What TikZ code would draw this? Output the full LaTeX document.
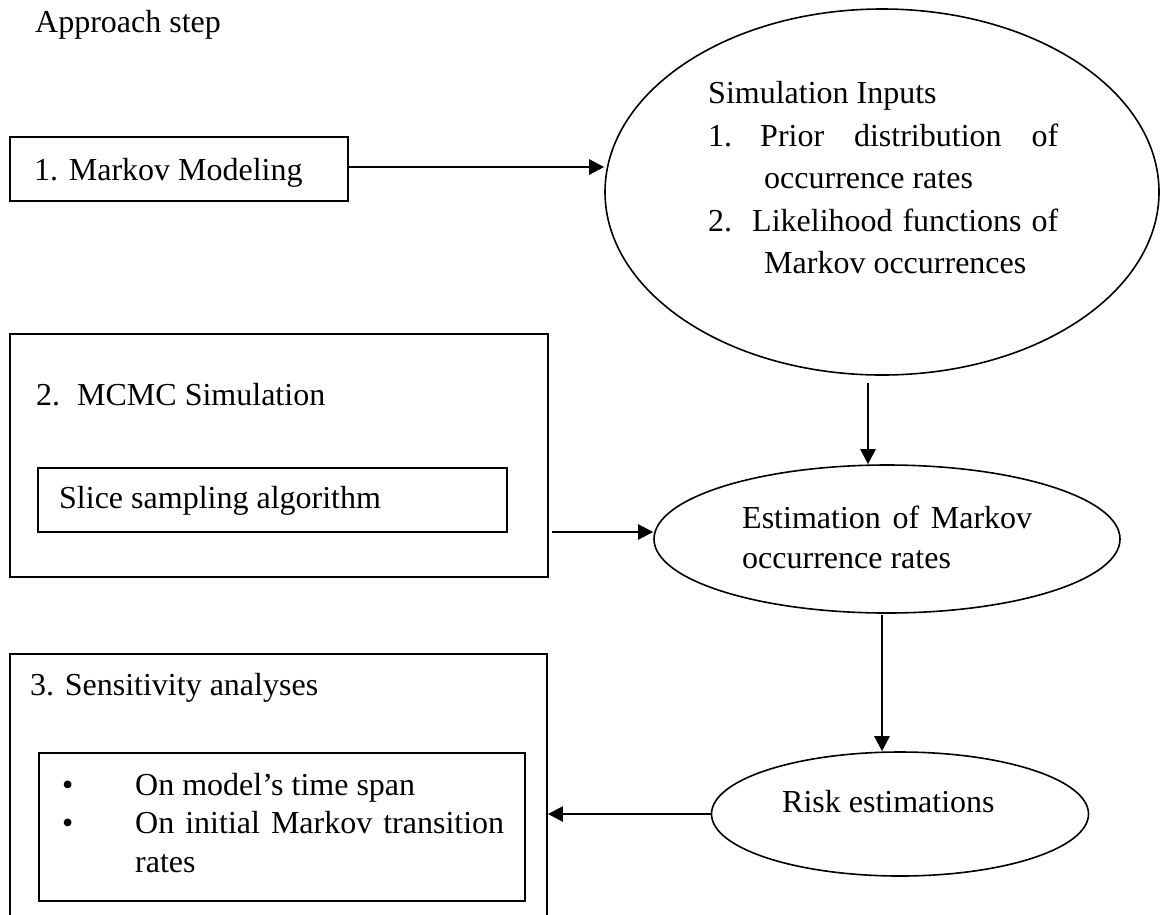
\documentclass[tikz,border=0pt]{standalone}
\usepackage{fontspec}
\setmainfont{Liberation Serif}
\usetikzlibrary{shapes.geometric,arrows.meta}

\tikzset{
  txt/.style={anchor=base west, inner sep=0pt, font=\fontsize{32}{40}\selectfont},
  stepbox/.style={draw, line width=1.8pt, rectangle, inner sep=0pt},
  stage/.style={draw, line width=1.6pt, ellipse, inner sep=0pt},
  flow/.style={line width=2.4pt, -{Triangle[length=15pt,width=15pt]}},
}

\begin{document}
\begin{tikzpicture}[x=1pt, y=-1pt]
  \useasboundingbox (0,0) rectangle (1161,914);
  \clip (0,0) rectangle (1161,914);
  \fill[white] (0,0) rectangle (1161,914);

  % heading
  \node[txt] (title) at (35,32) {Approach step};

  % step 1
  \node[stepbox, minimum width=338pt, minimum height=64pt] (box1) at (179,169) {};
  \node[txt] (t1) at (34,180) {1. Markov Modeling};

  % simulation inputs
  \node[stage, minimum width=554pt, minimum height=366pt] (ell1) at (882,192) {};
  \node[txt] (in0) at (708,103) {Simulation Inputs};
  \node[txt] (in1n) at (708,146) {1.};
  \node[txt] (in1) at (760,146) {\makebox[298pt][s]{Prior distribution of}};
  \node[txt] (in1b) at (764,188) {occurrence rates};
  \node[txt] (in2n) at (708,231) {2.};
  \node[txt] (in2) at (752,231) {\makebox[306pt][s]{Likelihood functions of}};
  \node[txt] (in2b) at (764,273) {Markov occurrences};

  % step 2
  \node[stepbox, minimum width=538pt, minimum height=243pt] (box2) at (279,455.5) {};
  \node[txt] (t2n) at (36,405) {2.};
  \node[txt] (t2) at (77,405) {MCMC Simulation};
  \node[stepbox, minimum width=469pt, minimum height=64pt] (slice) at (272.5,500) {};
  \node[txt] (tslice) at (59,508) {Slice sampling algorithm};

  % estimation
  \node[stage, minimum width=466pt, minimum height=148pt] (ell2) at (887,539) {};
  \node[txt] (est1) at (742,528) {\makebox[290pt][s]{Estimation of Markov}};
  \node[txt] (est2) at (742,568) {occurrence rates};

  % step 3 (box runs past the lower edge)
  \node[stepbox, minimum width=537pt, minimum height=320pt] (box3) at (278.5,814) {};
  \node[txt] (t3) at (30,695) {3. Sensitivity analyses};
  \node[stepbox, minimum width=486pt, minimum height=148pt] (sens) at (282,827) {};
  \node[txt] (b1) at (62,795) {\textbullet};
  \node[txt] (s1) at (135,795) {On model’s time span};
  \node[txt] (b2) at (62,833) {\textbullet};
  \node[txt] (s2) at (135,833) {\makebox[369pt][s]{On initial Markov transition}};
  \node[txt] (s3) at (135,872) {rates};

  % risk
  \node[stage, minimum width=377pt, minimum height=124pt] (ell3) at (900,814) {};
  \node[txt] (risk) at (782,812) {Risk estimations};

  % connectors
  \coordinate (a1s) at (348,167);
  \draw[flow] (a1s) -- (a1s -| ell1.west);
  \coordinate (a2s) at (868,383);
  \draw[flow] (a2s) -- (a2s |- ell2.north);
  \coordinate (a3s) at (552,532);
  \draw[flow] (a3s) -- (a3s -| ell2.west);
  \coordinate (a4s) at (882,615);
  \draw[flow] (a4s) -- (a4s |- ell3.north);
  \draw[flow] (ell3.west) -- (ell3.west -| box3.east);
\end{tikzpicture}
\end{document}
